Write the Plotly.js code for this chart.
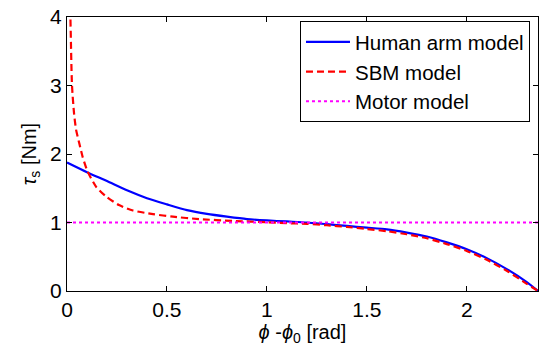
<!DOCTYPE html>
<html>
<head>
<meta charset="utf-8">
<script src="https://cdn.plot.ly/plotly-3.0.1.min.js"></script>
<style>html,body{margin:0;padding:0;background:#fff;}#chart{width:539px;height:352px;}</style>
</head>
<body>
<div id="chart"></div>
<script>
// Human arm model
var armX = [0, 0.1, 0.2, 0.3, 0.4, 0.5, 0.6, 0.7, 0.8, 0.9, 1.0, 1.1, 1.2, 1.3, 1.4, 1.5, 1.6, 1.7, 1.8, 1.9, 2.0, 2.1, 2.2, 2.3, 2.356];
var armY = [1.876, 1.735, 1.605, 1.47, 1.355, 1.265, 1.18, 1.125, 1.085, 1.05, 1.03, 1.015, 1.0, 0.975, 0.95, 0.925, 0.90, 0.853, 0.795, 0.71, 0.61, 0.48, 0.32, 0.13, 0.0];
// SBM model
var sbmX = [0.012, 0.017, 0.025, 0.035, 0.045, 0.062, 0.078, 0.103, 0.145, 0.195, 0.26, 0.33, 0.43, 0.53, 0.66, 0.83, 1.0, 1.1, 1.2, 1.3, 1.4, 1.5, 1.6, 1.7, 1.8, 1.9, 2.0, 2.1, 2.2, 2.3, 2.356];
var sbmY = [4.6, 4.0, 3.0, 2.6, 2.36, 2.15, 1.96, 1.745, 1.525, 1.38, 1.255, 1.175, 1.122, 1.085, 1.05, 1.023, 1.004, 0.99, 0.98, 0.96, 0.935, 0.905, 0.873, 0.828, 0.77, 0.685, 0.585, 0.455, 0.295, 0.105, 0.0];
// Motor model
var motorX = [0, 2.3562];
var motorY = [1, 1];

var xTicks = [0, 0.5, 1, 1.5, 2];
var xTickText = ['0', '0.5', '1', '1.5', '2'];
var yTicks = [0, 1, 2, 3, 4];
var yTickText = ['0', '1', '2', '3', '4'];

var font = 'Liberation Sans, Arial, sans-serif';

var traces = [
  {x: armX, y: armY, mode: 'lines', name: 'Human arm model', line: {color: '#0000ff', width: 2.2, shape: 'spline', smoothing: 0.6}},
  {x: sbmX, y: sbmY, mode: 'lines', name: 'SBM model', line: {color: '#ff0000', width: 2.2, dash: '7px,4px', shape: 'spline', smoothing: 0.6}},
  {x: motorX, y: motorY, mode: 'lines', name: 'Motor model', line: {color: '#ff00ff', width: 2.2, dash: 'dot'}}
];

var layout = {
  width: 539, height: 352,
  margin: {l: 67, r: 1, t: 17, b: 61, pad: 0},
  paper_bgcolor: '#fff', plot_bgcolor: '#fff',
  font: {family: font, size: 21, color: '#000'},
  showlegend: true,
  legend: {
    x: 0.983, y: 0.985, xanchor: 'right', yanchor: 'top',
    bgcolor: '#fff', bordercolor: '#000', borderwidth: 1,
    font: {family: font, size: 20.5, color: '#000'},
    tracegroupgap: 0, itemwidth: 44
  },
  xaxis: {
    range: [0, 2.3562], tickvals: xTicks, ticktext: xTickText,
    showline: true, linecolor: '#000', linewidth: 1, mirror: 'ticks',
    ticks: 'inside', ticklen: 5, tickcolor: '#000', showgrid: false, zeroline: false,
    tickfont: {family: font, size: 21, color: '#000'},
    title: {text: '<i>ϕ</i> -<i>ϕ</i><sub>0</sub> [rad]', font: {family: font, size: 20, color: '#000'}, standoff: 3}
  },
  yaxis: {
    range: [0, 4], tickvals: yTicks, ticktext: yTickText,
    showline: true, linecolor: '#000', linewidth: 1, mirror: 'ticks',
    ticks: 'inside', ticklen: 5, tickcolor: '#000', showgrid: false, zeroline: false,
    tickfont: {family: font, size: 21, color: '#000'},
    title: {text: '<i>τ</i><sub>s</sub> [Nm]', font: {family: font, size: 20, color: '#000'}, standoff: 8}
  }
};

Plotly.newPlot('chart', traces, layout, {displayModeBar: false, staticPlot: true});
</script>
</body>
</html>
